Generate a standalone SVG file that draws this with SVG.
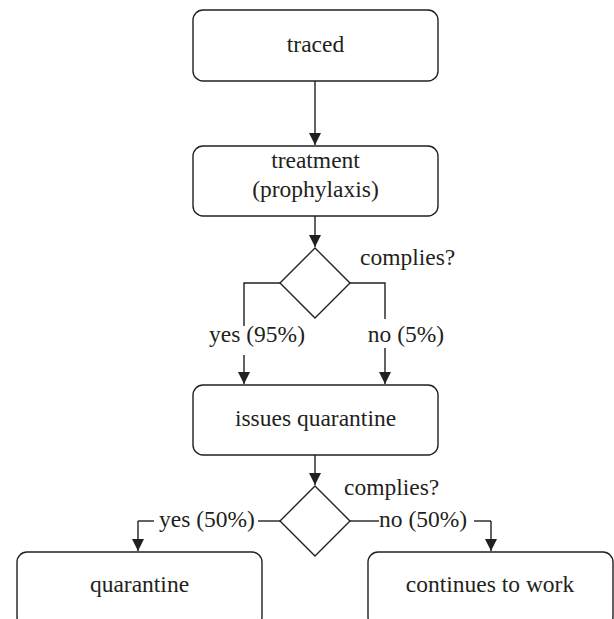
<svg xmlns="http://www.w3.org/2000/svg" width="614" height="619" viewBox="0 0 614 619">
<defs>
<style>
.box{fill:#fff;stroke:#231f20;stroke-width:1.4}
.ln{fill:none;stroke:#231f20;stroke-width:1.4}
.t{font-family:'Liberation Serif','DejaVu Serif',serif;font-size:23.5px;fill:#231f20}
.c{text-anchor:middle}
</style>
<marker id="ah" viewBox="0 0 12 12" refX="12" refY="6" markerWidth="12" markerHeight="12" markerUnits="userSpaceOnUse" orient="auto">
<path d="M0,0 L12,6 L0,12 Z" fill="#231f20"/>
</marker>
</defs>
<rect width="614" height="619" fill="#fff"/>
<g id="connectors">
<line class="ln" x1="315" y1="81" x2="315" y2="145" marker-end="url(#ah)"/>
<line class="ln" x1="315" y1="216" x2="315" y2="247" marker-end="url(#ah)"/>
<polyline class="ln" points="280,283 244,283 244,326"/>
<line class="ln" x1="244" y1="355" x2="244" y2="384" marker-end="url(#ah)"/>
<polyline class="ln" points="350,283 385,283 385,319"/>
<line class="ln" x1="385" y1="348" x2="385" y2="384" marker-end="url(#ah)"/>
<line class="ln" x1="315" y1="455" x2="315" y2="485" marker-end="url(#ah)"/>
<line class="ln" x1="280" y1="521" x2="258" y2="521"/>
<polyline class="ln" points="154,521 138,521"/>
<line class="ln" x1="138" y1="521" x2="138" y2="551" marker-end="url(#ah)"/>
<line class="ln" x1="350" y1="521" x2="379" y2="521"/>
<polyline class="ln" points="474,521 491,521"/>
<line class="ln" x1="491" y1="521" x2="491" y2="551" marker-end="url(#ah)"/>
<text x="257" y="342" class="t c" font-family="Liberation Serif, DejaVu Serif, serif">yes (95%)</text>
<text x="406" y="342" class="t c" font-family="Liberation Serif, DejaVu Serif, serif">no (5%)</text>
<text x="159" y="527" class="t" font-family="Liberation Serif, DejaVu Serif, serif">yes (50%)</text>
<text x="379" y="527" class="t" font-family="Liberation Serif, DejaVu Serif, serif">no (50%)</text>
</g>
<g id="traced">
<rect class="box" x="193" y="10" width="245" height="71" rx="10"/>
<text x="315.5" y="52" class="t c" font-family="Liberation Serif, DejaVu Serif, serif">traced</text>
</g>
<g id="treatment">
<rect class="box" x="193" y="146" width="245" height="70" rx="10"/>
<text x="315.5" y="168" class="t c" font-family="Liberation Serif, DejaVu Serif, serif">treatment</text>
<text x="315.5" y="197" class="t c" font-family="Liberation Serif, DejaVu Serif, serif">(prophylaxis)</text>
</g>
<g id="decision1">
<polygon class="box" points="315,248 350,283 315,318 280,283"/>
<text x="360" y="265" class="t" font-family="Liberation Serif, DejaVu Serif, serif">complies?</text>
</g>
<g id="issues">
<rect class="box" x="193" y="385" width="245" height="70" rx="10"/>
<text x="315.5" y="426" class="t c" font-family="Liberation Serif, DejaVu Serif, serif">issues quarantine</text>
</g>
<g id="decision2">
<polygon class="box" points="315,486 350,521 315,556 280,521"/>
<text x="344" y="495" class="t" font-family="Liberation Serif, DejaVu Serif, serif">complies?</text>
</g>
<g id="quarantine">
<rect class="box" x="17" y="552" width="245" height="75" rx="10"/>
<text x="139.5" y="592" class="t c" font-family="Liberation Serif, DejaVu Serif, serif">quarantine</text>
</g>
<g id="continues">
<rect class="box" x="368" y="552" width="245" height="75" rx="10"/>
<text x="490" y="592" class="t c" font-family="Liberation Serif, DejaVu Serif, serif">continues to work</text>
</g>
</svg>
